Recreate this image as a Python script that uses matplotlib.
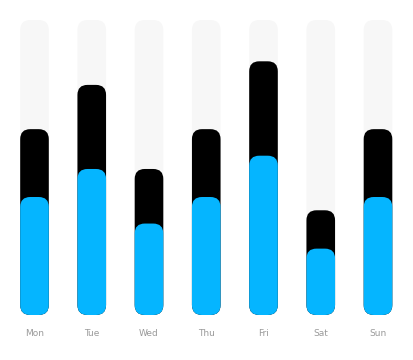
import matplotlib
matplotlib.use("Agg")
import matplotlib.pyplot as plt
from matplotlib.patches import FancyBboxPatch

days = ["Mon", "Tue", "Wed", "Thu", "Fri", "Sat", "Sun"]
total = [63, 78, 49.5, 63, 86, 35.5, 63]
part = [40, 49.5, 31, 40, 54, 22.5, 40]
track_max = 100

BLUE = "#05B5FF"
TRACK = "#F7F7F7"

fig = plt.figure(figsize=(4.13, 3.6), dpi=100)
ax = fig.add_axes([0, 45 / 360, 1, 295 / 360])
ax.set_xlim(-34.5 / 57.25, (413 - 34.5) / 57.25)
ax.set_ylim(0, track_max)

# pixels per data unit, so the rounded corners come out circular
px_x = 57.25
px_y = 295 / track_max
aspect = px_x / px_y
radius = 10 / px_x
width = 0.5


def rbar(x, h, color):
    ax.add_patch(FancyBboxPatch(
        (x - width / 2, 0), width, h,
        boxstyle=f"round,pad=0,rounding_size={radius}",
        mutation_aspect=aspect, fc=color, ec="none", lw=0))


for i, d in enumerate(days):
    rbar(i, track_max, TRACK)
    rbar(i, total[i], "black")
    rbar(i, part[i], BLUE)

ax.set_xticks(range(len(days)))
ax.set_xticklabels(days, fontsize=6.5, color="#9a9a9a")
ax.tick_params(length=0, pad=10)
ax.set_yticks([])
for s in ax.spines.values():
    s.set_visible(False)

fig.savefig("out.png", dpi=100)
